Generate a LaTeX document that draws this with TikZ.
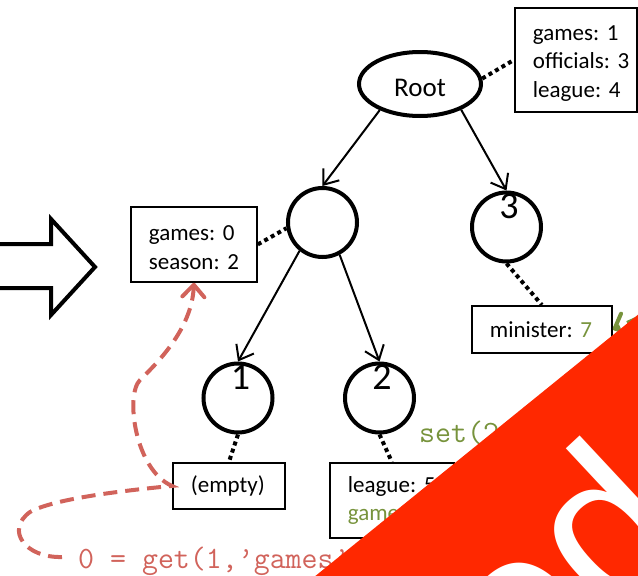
\documentclass[tikz,border=0pt]{standalone}
\usepackage{fontspec}
\setmainfont{Carlito}
\newfontfamily\stampfont{Liberation Sans}
\usetikzlibrary{arrows.meta,shapes.geometric,calc}
\definecolor{keyred}{RGB}{209,99,91}
\definecolor{keygreen}{RGB}{119,147,60}
\definecolor{banner}{RGB}{255,40,0}
\begin{document}
\begin{tikzpicture}[x=1pt,y=-1pt,
  treenode/.style={circle,draw,line width=4pt,minimum size=69pt,inner sep=0pt},
  digit/.style={font=\fontsize{38}{38}\selectfont,inner sep=0pt,anchor=base},
  databox/.style={draw,line width=1.8pt,align=left,inner xsep=18pt,inner ysep=0pt,
                  anchor=north west,font=\fontsize{23}{28.5}\selectfont},
  child/.style={line width=2pt,-{Straight Barb[length=13pt,width=20pt]}},
  attach/.style={line width=4pt,dash pattern=on 4pt off 3.5pt},
  lookup/.style={keyred,line width=4pt,dash pattern=on 14pt off 8pt},
  update/.style={keygreen,line width=4pt,dash pattern=on 14pt off 8pt},
  pointer/.style={-{Straight Barb[length=12pt,width=22pt,round]}},
  code/.style={font=\ttfamily\fontsize{31}{31}\selectfont,inner sep=0pt,anchor=base west}
]
\useasboundingbox (0,0) rectangle (638,576);
\clip (0,0) rectangle (638,576);

% big outlined arrow entering from the left
\draw[line width=4pt,fill=white] (-10,244) -- (51,244) -- (51,219) -- (95,267)
  -- (51,315) -- (51,288) -- (-10,288);

% tree nodes
\node[ellipse,draw,line width=4pt,minimum width=122pt,minimum height=64pt,inner sep=0pt,
      text height=26pt,font=\fontsize{27}{27}\selectfont] (root) at (420,84) {Root};
\node[treenode] (c0) at (322.5,222.5) {};
\node[treenode] (c3) at (506.5,227) {};
\node[treenode] (c1) at (238,398) {};
\node[treenode] (c2) at (379.5,398) {};

% parent -> child edges
\draw[child] (root.213) -- (c0.north);
\draw[child] (root.328) -- (c3.north);
\draw[child] (c0.231) -- (c1.north);
\draw[child] (c0.298) -- (c2.north);

% node numbers
\node[digit] (n1) at ($(c1.center)+(2.5,-8.5)$) {1};
\node[digit] (n2) at ($(c2.center)+(2.5,-8.5)$) {2};
\node[digit] (n3) at ($(c3.center)+(2.5,-8.5)$) {3};

% per-node key/value tables
\node[databox,text width=86pt,minimum height=104pt,text depth=54pt] (rbox) at (514,7)
  {games:~1\\officials:~3\\league:~4};
\node[databox,text width=90pt,minimum height=75pt,text depth=22.5pt] (g0) at (130,206)
  {games:~0\\season:~2};
\node[databox,text width=104pt,minimum height=47pt] (mbox) at (471,305)
  {minister:~\textcolor{keygreen}{7}};
\node[databox,text width=76pt,minimum height=46pt] (ebox) at (172,462) {(empty)};
\node[databox,text width=88pt,minimum height=75pt] (lbox) at (329,462)
  {league:~5\\\textcolor{keygreen}{games:~6}};

% tables attached to their nodes
\draw[attach] (root.5) -- (rbox.west);
\draw[attach] (g0.east) -- (c0.189);
\draw[attach] (c3.south) -- (mbox.north);
\draw[attach] (c1.south) -- (ebox.north);
\draw[attach] (c2.south) -- (lbox.north);

% calls
\node[code,text=keygreen] (setcall) at (419,442) {set(2,’games’,6)};
\node[code,text=keyred] (getcall) at (78,568) {0 = get(1,’games’)};

% lookup falls back from node 1 to its parent
\coordinate (getfrom) at (62,557);
\draw[lookup,pointer] (getfrom) .. controls (25,558) and (5,530) .. (30,512)
  .. controls (55,498) and (130,490) .. (ebox.west)
  .. controls (135,470) and (125,395) .. (140,380)
  .. controls (155,365) and (192,330) .. (g0.south);

\coordinate (setfrom) at (700,290);
\draw[update,pointer] (setfrom) -- (mbox.east);

% corner banner
\fill[banner] (650,305) -- (303,586) -- (650,586) -- cycle;
\node[text=white,font=\stampfont\fontsize{215}{215}\selectfont,inner sep=0pt,
      rotate=43,anchor=base east] (stamp) at (697,540) {Updated};
\end{tikzpicture}
\end{document}
